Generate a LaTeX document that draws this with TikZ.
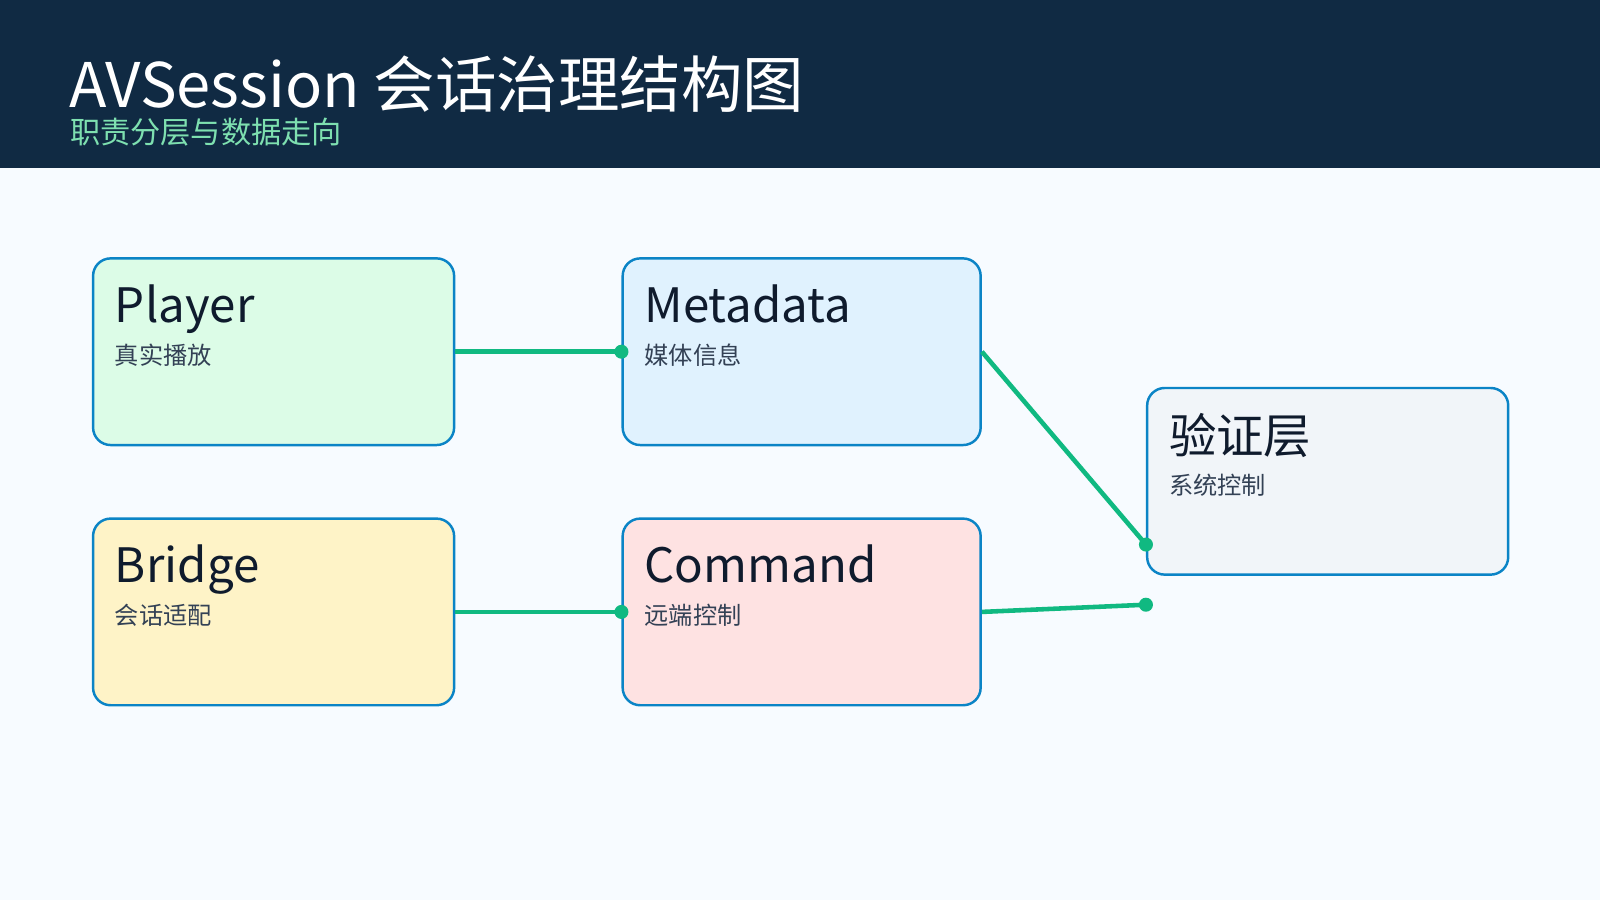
\documentclass[tikz,border=0pt]{standalone}
\usepackage{fontspec}
\setmainfont{Noto Sans CJK SC}
\definecolor{hdr}{HTML}{102A43}
\definecolor{sub}{HTML}{7EE0B0}
\definecolor{bg}{HTML}{F7FBFF}
\definecolor{bd}{HTML}{0B84C6}
\definecolor{ln}{HTML}{10B981}
\definecolor{tx}{HTML}{0F1B2D}
\definecolor{st}{HTML}{334155}
\definecolor{fg}{HTML}{DCFCE7}
\definecolor{fb}{HTML}{E0F2FE}
\definecolor{fs}{HTML}{F1F5F9}
\definecolor{fy}{HTML}{FEF3C7}
\definecolor{fr}{HTML}{FEE2E2}
\begin{document}
\begin{tikzpicture}[x=0.010204cm,y=-0.010204cm,
 box/.style={draw=bd,line width=0.7pt,rounded corners=5pt,inner sep=0,anchor=north west,
   minimum width={354*0.2903pt},minimum height={183*0.2903pt}},
 ttl/.style={anchor=base west,inner sep=0,text=tx,font=\fontsize{13.5}{15}\selectfont},
 sbt/.style={anchor=base west,inner sep=0,text=st,font=\fontsize{6.9}{8}\selectfont},
 con/.style={ln,line width=1.3pt},
 dot/.style={circle,fill=ln,inner sep=0,minimum size=4pt}]
\useasboundingbox (0,0) rectangle (1568,882);
\fill[bg] (0,0) rectangle (1568,882);
\fill[hdr] (0,0) rectangle (1568,165);
\node[anchor=base west,inner sep=0,text=white,font=\fontsize{17.5}{20}\selectfont] (title) at (67,105) {AVSession 会话治理结构图};
\node[anchor=base west,inner sep=0,text=sub,font=\fontsize{8.6}{10}\selectfont] (subt) at (68,141) {职责分层与数据走向};
% boxes
\node[box,fill=fg] (player) at (90,252) {};
\node[box,fill=fb,minimum width={351*0.2903pt}] (meta) at (609,252) {};
\node[box,fill=fs] (valid) at (1123,379) {};
\node[box,fill=fy] (bridge) at (90,507) {};
\node[box,fill=fr,minimum width={351*0.2903pt}] (cmd) at (609,507) {};
% texts
\node[ttl] (t1) at (112,316) {Player};
\node[sbt] (s1) at (112,357) {真实播放};
\node[ttl] (t2) at (631,316) {Metadata};
\node[sbt] (s2) at (631,357) {媒体信息};
\node[ttl] (t3) at (1145,444) {验证层};
\node[sbt] (s3) at (1145,485) {系统控制};
\node[ttl] (t4) at (112,571) {Bridge};
\node[sbt] (s4) at (112,612) {会话适配};
\node[ttl] (t5) at (631,571) {Command};
\node[sbt] (s5) at (631,612) {远端控制};
% connectors
\coordinate (a1) at (meta.west);
\coordinate (a2) at ([yshift={-62*0.2903pt}]valid.west);
\coordinate (a3) at ([yshift={-121*0.2903pt}]valid.west);
\coordinate (a4) at (cmd.west);
\draw[con] (player.east) -- (a1);
\draw[con] (meta.east) -- (a2);
\draw[con] (cmd.east) -- (a3);
\draw[con] (bridge.east) -- (a4);
\node[dot] (d1) at (a1) {};
\node[dot] (d2) at (a2) {};
\node[dot] (d3) at (a3) {};
\node[dot] (d4) at (a4) {};
\end{tikzpicture}
\end{document}
